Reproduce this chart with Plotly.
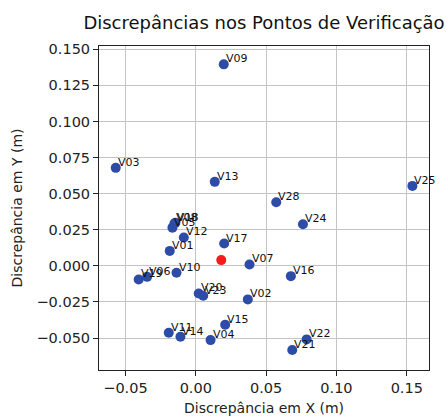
import plotly.graph_objects as go

labels = ["V01", "V02", "V03", "V04", "V05", "V06", "V07", "V08", "V09", "V10",
          "V11", "V12", "V13", "V14", "V15", "V16", "V17", "V18", "V19", "V20",
          "V21", "V22", "V23", "V24", "V25", "V28"]
dx = [-0.0185, 0.0370, -0.0569, 0.0105, -0.0166, -0.0346, 0.0382, -0.0152, 0.0199, -0.0137,
      -0.0192, -0.0085, 0.0135, -0.0109, 0.0209, 0.0676, 0.0202, -0.0145, -0.0406, 0.0021,
      0.0686, 0.0788, 0.0053, 0.0762, 0.1540, 0.0572]
dy = [0.0104, -0.0232, 0.0679, -0.0514, 0.0265, -0.0076, 0.0010, 0.0294, 0.1396, -0.0048,
      -0.0463, 0.0197, 0.0582, -0.0491, -0.0408, -0.0071, 0.0155, 0.0299, -0.0094, -0.0191,
      -0.0583, -0.0509, -0.0207, 0.0289, 0.0554, 0.0441]
mean_x = [0.0181]
mean_y = [0.0040]

x_ticks = [-0.05, 0.00, 0.05, 0.10, 0.15]
y_ticks = [-0.050, -0.025, 0.000, 0.025, 0.050, 0.075, 0.100, 0.125, 0.150]

FONT = "DejaVu Sans"

fig = go.Figure()
fig.add_trace(go.Scatter(x=dx, y=dy, mode="markers",
                         marker=dict(color="#2C4CA8", size=10, line=dict(width=0)),
                         showlegend=False, hoverinfo="skip"))
fig.add_trace(go.Scatter(x=mean_x, y=mean_y, mode="markers",
                         marker=dict(color="#F21C1C", size=10, line=dict(width=0)),
                         showlegend=False, hoverinfo="skip"))

for lab, xv, yv in zip(labels, dx, dy):
    fig.add_annotation(x=xv, y=yv, text=lab, showarrow=False,
                       xanchor="left", yanchor="bottom", xshift=0, yshift=-3,
                       font=dict(family=FONT, size=11, color="#111111"))

axis_common = dict(showgrid=True, gridcolor="#c4c4c4", gridwidth=1,
                   showline=True, linecolor="#222222", linewidth=1, mirror=True,
                   ticks="outside", ticklen=5, tickcolor="#222222", tickwidth=1,
                   zeroline=False, tickfont=dict(family=FONT, size=14.5, color="#222222"))

fig.update_xaxes(range=[-0.0688, 0.1658], tickvals=x_ticks,
                 ticktext=[f"{v:.2f}".replace("-", "\u2212") for v in x_ticks],
                 title=dict(text="Discrepância em X (m)", standoff=7,
                            font=dict(family=FONT, size=14, color="#222222")),
                 **axis_common)
fig.update_yaxes(range=[-0.0721, 0.1523], tickvals=y_ticks,
                 ticktext=[f"{v:.3f}".replace("-", "\u2212") for v in y_ticks],
                 title=dict(text="Discrepância em Y (m)", standoff=10,
                            font=dict(family=FONT, size=14, color="#222222")),
                 **axis_common)

fig.update_layout(
    width=446, height=416,
    margin=dict(l=99, r=17, t=46, b=46, autoexpand=False),
    paper_bgcolor="white", plot_bgcolor="white",
    title=dict(text="Discrepâncias nos Pontos de Verificação", x=0.5, xref="paper",
               xanchor="center", y=1 - 23 / 416, yanchor="middle",
               font=dict(family=FONT, size=18, color="#111111")),
)

fig.write_html("out.html")
